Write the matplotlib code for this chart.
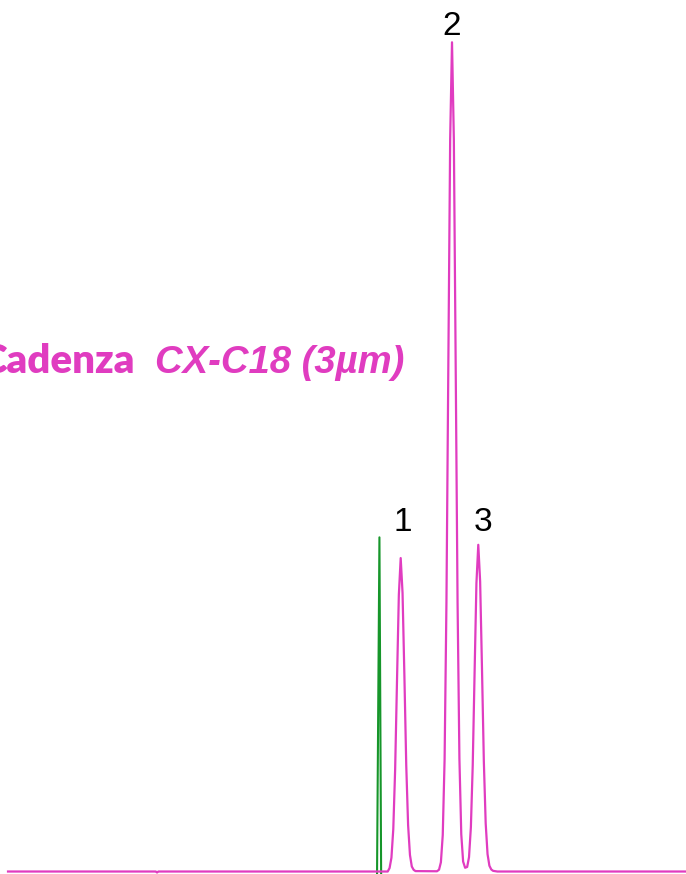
import matplotlib.pyplot as plt

# retention time (min) and detector signal (mAU)
baseline_t = [0.117, 2.27, 2.289, 2.31, 5.50, 5.62, 5.652]
baseline_s = [0.0, 0.0, -0.12, 0.0, 0.0, 0.0, 0.0]

peak1_t = [5.679, 5.706, 5.733, 5.760, 5.787, 5.814, 5.841,
           5.868, 5.895, 5.922, 5.949, 5.976, 6.003, 6.030, 6.057]
peak1_s = [0.42, 1.66, 5.11, 12.27, 22.93, 33.36, 37.8,
           33.6, 23.6, 12.8, 5.6, 2.0, 0.6, 0.2, 0.05]

peak23_t = [6.37, 6.400, 6.427, 6.454, 6.481, 6.508, 6.535, 6.562, 6.589,
            6.616, 6.643, 6.670, 6.697, 6.724, 6.751, 6.78, 6.81,
            6.837, 6.864, 6.891, 6.918, 6.945, 6.972,
            6.999, 7.026, 7.053, 7.080, 7.107, 7.134, 7.161, 7.188, 7.25]
peak23_s = [0.03, 0.22, 1.11, 4.39, 13.53, 32.47, 60.65, 88.25, 100.0,
            88.25, 60.65, 32.47, 13.6, 4.5, 1.2, 0.45, 0.55,
            1.73, 5.33, 12.79, 23.9, 34.77, 39.4,
            35.0, 24.5, 13.3, 5.8, 2.1, 0.7, 0.25, 0.08, 0.0]

tail_t = [7.30, 10.0]
tail_s = [0.0, 0.0]

# unretained marker from the overlaid run
marker_t = [5.496, 5.531, 5.556]
marker_s = [-0.5, 40.3, -0.5]

peak_labels = ["1", "2", "3"]
label_t = [5.875, 6.589, 7.04]
label_s = [41.1, 100.9, 41.1]

trace_t = baseline_t + peak1_t + peak23_t + tail_t
trace_s = baseline_s + peak1_s + peak23_s + tail_s

magenta = "#e03cc0"
green = "#16962a"

fig = plt.figure(figsize=(6.86, 8.74), dpi=100)
ax = fig.add_axes([0, 0, 1, 1])

ax.plot(marker_t, marker_s, color=green, lw=1.5)
ax.plot(trace_t, trace_s, color=magenta, lw=1.6)

for lab, t, s in zip(peak_labels, label_t, label_s):
    ax.text(t, s, lab, ha="center", va="baseline", fontsize=24,
            family="Liberation Sans", color="black")

# title runs off the left edge in the source figure
ax.text(1.97, 60.1, "Cadenza", ha="right", va="baseline", fontsize=29,
        family="Lato", fontweight="heavy", color=magenta)
ax.text(2.26, 60.1, "CX-C18 (3µm)", ha="left", va="baseline", fontsize=27.5,
        family="Liberation Sans", fontweight="bold", style="italic",
        color=magenta)

ax.set_xlim(0, 10.0)
ax.set_ylim(-0.3, 105.1)
ax.axis("off")

fig.savefig("out.png", dpi=100)
